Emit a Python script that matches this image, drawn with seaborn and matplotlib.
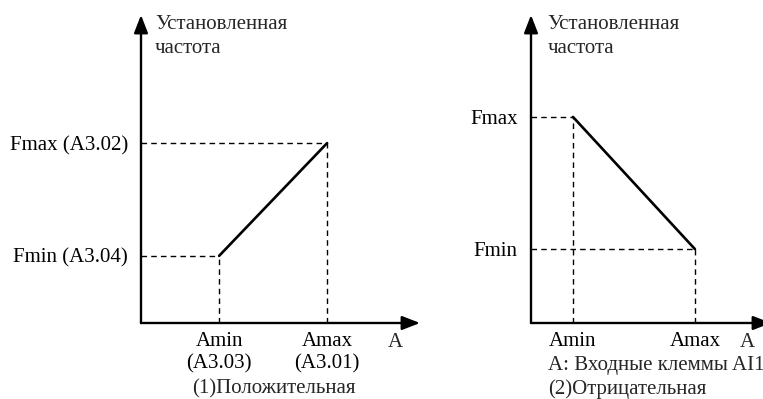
import matplotlib
matplotlib.use("Agg")
import matplotlib.pyplot as plt
import seaborn as sns

# schematic values (axis units 0..10)
pos_a = [2.8, 6.67]          # Amin, Amax
pos_f = [2.18, 5.84]         # Fmin, Fmax
pos_xlabels = ["Amin\n(A3.03)", "Amax\n(A3.01)"]
pos_ylabels = ["Fmin (A3.04)", "Fmax (A3.02)"]

neg_a = [1.75, 6.83]
neg_f = [6.69, 2.40]         # Fmax at Amin, Fmin at Amax
neg_xlabels = ["Amin", "Amax"]
neg_ylabels = ["Fmin", "Fmax"]

y_title = "Установленная\nчастота"

sns.set_theme(style="white")
plt.rcParams["font.family"] = ["Liberation Serif", "DejaVu Serif"]
FS = 15

W, H = 763, 399
fig = plt.figure(figsize=(W / 100, H / 100), dpi=100)


def make_ax(x0, y0, w, h):
    ax = fig.add_axes([x0 / W, (H - y0) / H, w / W, h / H])
    ax.set_xlim(0, 10)
    ax.set_ylim(0, 10)
    for s in ax.spines.values():
        s.set_visible(False)
    ax.patch.set_alpha(0)
    arrow = dict(arrowstyle="-|>,head_length=0.9,head_width=0.35", color="black",
                 lw=1.7, shrinkA=0, shrinkB=0)
    ax.annotate("", xy=(0, 1), xytext=(0, 0), xycoords="axes fraction",
                arrowprops=arrow, annotation_clip=False)
    ax.annotate("", xy=(1, 0), xytext=(0, 0), xycoords="axes fraction",
                arrowprops=arrow, annotation_clip=False)
    ax.tick_params(axis="both", length=0, labelsize=FS, colors="black")
    ax.tick_params(axis="y", pad=9.5)
    ax.tick_params(axis="x", pad=6.5)
    return ax


dash = dict(color="black", lw=1.0, linestyle=(0, (4, 3)))

# (1) positive characteristic
ax1 = make_ax(141, 323, 279, 308)
sns.lineplot(x=pos_a, y=pos_f, ax=ax1, color="black", lw=1.9)
for a, f in zip(pos_a, pos_f):
    ax1.plot([0, a], [f, f], **dash)
    ax1.plot([a, a], [0, f], **dash)
ax1.set_xticks(pos_a, pos_xlabels)
ax1.set_yticks(pos_f, pos_ylabels)
ax1.text(0.05, 1.0, y_title, transform=ax1.transAxes, fontsize=FS,
         va="top", ha="left", linespacing=1.35)
ax1.text(9.1, -0.78, "A", fontsize=FS, ha="center", va="baseline")
ax1.text(4.77, -2.3, "(1)Положительная", fontsize=FS, ha="center", va="baseline")

# (2) negative characteristic
ax2 = make_ax(531, 323, 240, 308)
sns.lineplot(x=neg_a, y=neg_f, ax=ax2, color="black", lw=1.9)
ax2.plot([0, neg_a[0]], [neg_f[0], neg_f[0]], **dash)
ax2.plot([0, neg_a[1]], [neg_f[1], neg_f[1]], **dash)
for a, f in zip(neg_a, neg_f):
    ax2.plot([a, a], [0, f], **dash)
ax2.set_xticks(neg_a, neg_xlabels)
ax2.set_yticks(sorted(neg_f), neg_ylabels)
ax2.text(0.07, 1.0, y_title, transform=ax2.transAxes, fontsize=FS,
         va="top", ha="left", linespacing=1.35)
ax2.text(9.0, -0.78, "A", fontsize=FS, ha="center", va="baseline")
ax2.text(0.7, -1.53, "A: Входные клеммы AI1", fontsize=FS, ha="left", va="baseline")
ax2.text(0.7, -2.3, "(2)Отрицательная", fontsize=FS, ha="left", va="baseline")

fig.savefig("out.png", dpi=100)
